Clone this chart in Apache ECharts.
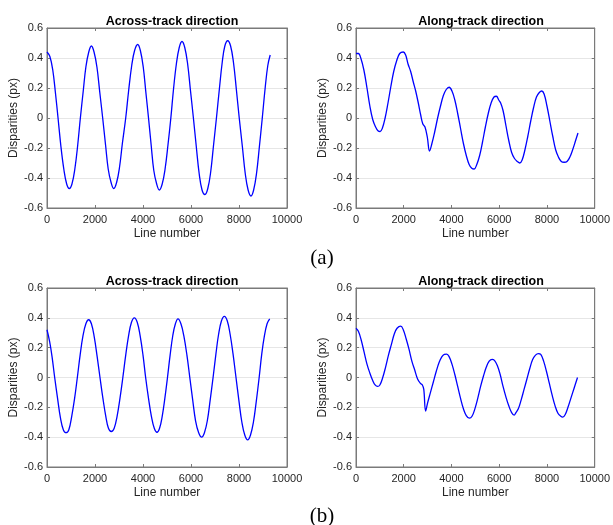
<!DOCTYPE html>
<html lang="en">
   <head>
      <title>Disparities</title>
      <meta charset="utf-8">
      <style>
         html, body { margin: 0; padding: 0; background: #fff; }
         #chart { width: 613px; height: 525px; }
      </style>
   </head>
   <body>
      <div id="chart"></div>

      <script type="text/javascript" src="https://cdn.jsdelivr.net/npm/echarts@6/dist/echarts.min.js"></script>
      <script type="text/javascript">
         // panel titles and axis names
         let panelTitles = ['Across-track direction', 'Along-track direction', 'Across-track direction', 'Along-track direction'];
         let xName = 'Line number';
         let yName = 'Disparities (px)';
         let xTicks = [0, 2000, 4000, 6000, 8000, 10000];
         let yTicks = [-0.6, -0.4, -0.2, 0, 0.2, 0.4, 0.6];

         // (a) across-track, [line, disparity]
         let acrossA = [
            [0,0.44],[120,0.41],[240,0.32],[350,0.17],[460,0.0],[580,-0.19],[700,-0.34],[820,-0.44],[930,-0.47],
            [1040,-0.44],[1160,-0.34],[1280,-0.18],[1390,0.0],[1510,0.18],[1620,0.34],[1740,0.44],[1850,0.48],
            [1960,0.44],[2080,0.34],[2200,0.17],[2320,0.0],[2440,-0.18],[2550,-0.34],[2670,-0.43],[2780,-0.47],
            [2900,-0.43],[3020,-0.33],[3140,-0.17],[3280,0.0],[3400,0.18],[3530,0.35],[3650,0.45],[3780,0.49],
            [3890,0.45],[4010,0.34],[4120,0.17],[4230,0.0],[4340,-0.18],[4450,-0.35],[4570,-0.44],[4680,-0.48],
            [4800,-0.44],[4920,-0.34],[5040,-0.18],[5160,0.0],[5270,0.19],[5390,0.36],[5510,0.47],[5625,0.51],
            [5740,0.47],[5860,0.36],[5980,0.18],[6100,0.0],[6220,-0.19],[6340,-0.37],[6460,-0.48],[6580,-0.51],
            [6700,-0.47],[6820,-0.36],[6940,-0.18],[7060,0.0],[7180,0.19],[7300,0.37],[7410,0.48],[7530,0.515],
            [7650,0.48],[7770,0.37],[7890,0.19],[8010,0.0],[8140,-0.19],[8260,-0.37],[8380,-0.48],[8500,-0.52],
            [8610,-0.48],[8730,-0.37],[8850,-0.19],[8970,0.0],[9090,0.2],[9200,0.35],[9300,0.42]
         ];

         // (a) along-track
         let alongA = [
            [0,0.43],[100,0.43],[200,0.40],[330,0.32],[460,0.20],[580,0.08],[700,-0.01],[820,-0.06],[920,-0.085],
            [1010,-0.09],[1100,-0.07],[1220,0.0],[1340,0.10],[1460,0.21],[1580,0.31],[1700,0.38],[1830,0.43],
            [1980,0.44],[2080,0.42],[2180,0.36],[2290,0.31],[2400,0.24],[2500,0.18],[2610,0.10],[2710,0.02],
            [2800,-0.04],[2890,-0.06],[2990,-0.13],[3080,-0.22],[3180,-0.17],[3300,-0.09],[3420,0.0],[3540,0.08],
            [3660,0.15],[3780,0.19],[3900,0.205],[4020,0.18],[4140,0.12],[4260,0.03],[4380,-0.07],[4500,-0.17],
            [4620,-0.25],[4740,-0.31],[4850,-0.335],[4950,-0.34],[5060,-0.31],[5180,-0.25],[5300,-0.16],
            [5420,-0.06],[5540,0.03],[5660,0.10],[5780,0.14],[5880,0.145],[5980,0.12],[6060,0.10],[6160,0.05],
            [6280,-0.05],[6400,-0.15],[6520,-0.23],[6640,-0.27],[6760,-0.29],[6860,-0.30],[6960,-0.28],
            [7080,-0.21],[7200,-0.12],[7320,-0.02],[7440,0.07],[7560,0.14],[7680,0.17],[7780,0.18],[7880,0.16],
            [8000,0.08],[8120,-0.02],[8240,-0.12],[8360,-0.21],[8480,-0.26],[8600,-0.29],[8720,-0.295],
            [8840,-0.29],[8960,-0.26],[9080,-0.21],[9200,-0.15],[9300,-0.10]
         ];

         // (b) across-track
         let acrossB = [
            [0,0.32],[110,0.24],[210,0.14],[320,0.0],[440,-0.14],[560,-0.27],[680,-0.35],[792,-0.37],
            [910,-0.35],[1030,-0.26],[1150,-0.14],[1264,0.0],[1380,0.15],[1500,0.28],[1620,0.36],[1736,0.387],
            [1850,0.36],[1970,0.27],[2090,0.14],[2208,0.0],[2330,-0.14],[2450,-0.26],[2560,-0.34],[2680,-0.362],
            [2800,-0.34],[2920,-0.26],[3040,-0.14],[3160,0.0],[3280,0.15],[3400,0.28],[3520,0.37],[3640,0.40],
            [3760,0.37],[3880,0.28],[4000,0.15],[4110,0.0],[4230,-0.14],[4350,-0.26],[4470,-0.34],[4583,-0.367],
            [4690,-0.34],[4800,-0.26],[4910,-0.14],[5020,0.0],[5130,0.15],[5240,0.28],[5350,0.36],[5458,0.393],
            [5580,0.36],[5700,0.28],[5830,0.15],[5950,0.0],[6070,-0.15],[6190,-0.29],[6320,-0.37],[6444,-0.40],
            [6560,-0.37],[6680,-0.29],[6800,-0.15],[6920,0.0],[7040,0.16],[7150,0.29],[7270,0.38],[7390,0.41],
            [7510,0.38],[7630,0.29],[7750,0.16],[7875,0.0],[8000,-0.16],[8120,-0.30],[8240,-0.385],[8361,-0.418],
            [8480,-0.385],[8600,-0.30],[8720,-0.16],[8840,0.0],[8950,0.16],[9060,0.28],[9170,0.36],[9278,0.393]
         ];

         // (b) along-track
         let alongB = [
            [0,0.33],[100,0.31],[220,0.25],[340,0.17],[460,0.09],[580,0.03],[700,-0.02],[800,-0.05],[903,-0.06],
            [1000,-0.05],[1120,0.0],[1240,0.07],[1360,0.15],[1480,0.22],[1600,0.29],[1720,0.33],[1875,0.345],
            [1980,0.32],[2100,0.26],[2220,0.19],[2340,0.11],[2460,0.05],[2580,-0.01],[2700,-0.04],[2780,-0.05],
            [2840,-0.08],[2917,-0.225],[3000,-0.17],[3120,-0.10],[3240,-0.03],[3360,0.04],[3480,0.10],[3600,0.14],
            [3700,0.155],[3800,0.157],[3900,0.14],[4020,0.09],[4140,0.02],[4260,-0.06],[4380,-0.14],[4500,-0.21],
            [4620,-0.255],[4750,-0.273],[4860,-0.26],[4980,-0.21],[5100,-0.14],[5220,-0.06],[5340,0.01],
            [5460,0.07],[5580,0.11],[5700,0.122],[5800,0.115],[5920,0.08],[6040,0.02],[6160,-0.06],[6280,-0.13],
            [6400,-0.19],[6520,-0.235],[6625,-0.252],[6700,-0.235],[6800,-0.21],[6920,-0.15],[7040,-0.08],
            [7160,-0.01],[7280,0.06],[7400,0.12],[7520,0.15],[7640,0.16],[7740,0.155],[7860,0.11],[7980,0.04],
            [8100,-0.04],[8220,-0.12],[8340,-0.19],[8460,-0.24],[8580,-0.26],[8660,-0.265],[8760,-0.25],
            [8880,-0.20],[9000,-0.14],[9140,-0.07],[9280,0.0]
         ];

         let panelData = [acrossA, alongA, acrossB, alongB];
         let font = '"Liberation Sans", Arial, sans-serif';
         let boxColor = '#7a7a7a';
         let textColor = '#262626';

         let grids = [
            {left: 47, top: 28, width: 240, height: 180},
            {left: 356, top: 28, width: 240, height: 180},
            {left: 47, top: 288, width: 240, height: 179},
            {left: 356, top: 288, width: 240, height: 179}
         ];

         let xAxes = [], yAxes = [], series = [], titles = [];
         grids.forEach(function (g, i) {
             g.show = true;
             g.borderColor = boxColor;
             g.borderWidth = 1;
             g.backgroundColor = '#fff';
             g.containLabel = false;

             let tick = {show: true, inside: true, length: 3, lineStyle: {color: boxColor}};
             let line = {show: true, onZero: false, lineStyle: {color: boxColor}};
             xAxes.push({
                 type: 'value', gridIndex: i, min: xTicks[0], max: xTicks[xTicks.length - 1], interval: 2000,
                 name: xName, nameLocation: 'middle', nameGap: 20,
                 nameTextStyle: {fontFamily: font, fontSize: 12, color: textColor},
                 axisLine: line,
                 axisTick: tick,
                 axisLabel: {fontFamily: font, fontSize: 11, color: textColor, margin: 6,
                     formatter: function (v) { return String(v); }},
                 splitLine: {show: false}
             });
             xAxes.push({
                 type: 'value', gridIndex: i, position: 'top', min: 0, max: 10000, interval: 2000,
                 axisLine: line,
                 axisTick: tick, axisLabel: {show: false}, splitLine: {show: false}
             });
             yAxes.push({
                 type: 'value', gridIndex: i, min: yTicks[0], max: yTicks[yTicks.length - 1], interval: 0.2,
                 name: yName, nameLocation: 'middle', nameGap: 23,
                 nameTextStyle: {fontFamily: font, fontSize: 12, color: textColor},
                 axisLine: line,
                 axisTick: tick,
                 axisLabel: {fontFamily: font, fontSize: 11, color: textColor, margin: 4,
                     formatter: function (v) { return String(Math.round(v * 10) / 10); }},
                 splitLine: {show: true, lineStyle: {color: '#e6e6e6', width: 1}}
             });
             yAxes.push({
                 type: 'value', gridIndex: i, position: 'right', min: -0.6, max: 0.6, interval: 0.2,
                 axisLine: line,
                 axisTick: tick, axisLabel: {show: false}, splitLine: {show: false}
             });
             series.push({
                 type: 'line', xAxisIndex: i * 2, yAxisIndex: i * 2,
                 data: panelData[i], showSymbol: false, smooth: 0.4,
                 lineStyle: {color: '#0000ff', width: 1.3},
                 animation: false
             });
             titles.push({
                 text: panelTitles[i], left: g.left + g.width / 2, top: g.top - 18, textAlign: 'center',
                 textStyle: {fontFamily: font, fontSize: 12.5, fontWeight: 'bold', color: '#000'}
             });
         });

         titles.push({text: '(a)', left: 317, top: 243, textAlign: 'center',
             textStyle: {fontFamily: '"Liberation Serif", "DejaVu Serif", serif', fontSize: 21, fontWeight: 'normal', color: '#000'}});
         titles.push({text: '(b)', left: 317, top: 501, textAlign: 'center',
             textStyle: {fontFamily: '"Liberation Serif", "DejaVu Serif", serif', fontSize: 21, fontWeight: 'normal', color: '#000'}});

         let myChart = echarts.init(document.getElementById('chart'), null, {renderer: 'canvas'});
         myChart.setOption({
             animation: false,
             backgroundColor: '#fff',
             title: titles,
             grid: grids,
             xAxis: xAxes,
             yAxis: yAxes,
             series: series
         });
      </script>
   </body>
</html>
